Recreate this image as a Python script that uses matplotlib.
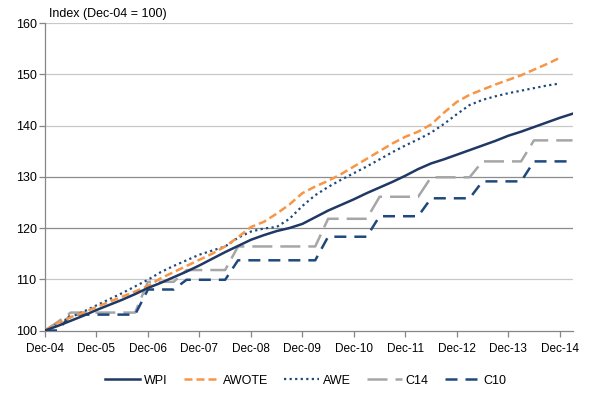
import numpy as np
import matplotlib
matplotlib.use('Agg')
import matplotlib.pyplot as plt

# quarterly index values, Dec-04 = 100 (Dec-04 .. Mar-15)
wpi = [100.0, 100.9, 101.9, 102.9, 104.0, 105.0, 106.0, 107.1, 108.3, 109.3,
       110.4, 111.5, 112.7, 114.0, 115.3, 116.5, 117.7, 118.6, 119.4, 120.0,
       120.8, 122.1, 123.4, 124.5, 125.6, 126.8, 127.9, 129.0, 130.2, 131.5,
       132.6, 133.4, 134.3, 135.2, 136.1, 137.0, 138.0, 138.8, 139.7, 140.6,
       141.5, 142.3]
awote = [100.0, 101.5, 102.6, 103.5, 104.6, 105.6, 106.6, 107.6, 108.7, 110.2,
         111.4, 112.6, 113.8, 115.0, 116.4, 118.2, 120.2, 121.2, 122.8, 124.6,
         126.8, 128.1, 129.2, 130.5, 132.0, 133.5, 135.0, 136.5, 137.8, 138.8,
         140.2, 142.5, 144.6, 146.0, 147.0, 148.0, 148.9, 149.8, 150.9, 152.0,
         153.2, np.nan]
awe = [100.0, 101.4, 102.6, 103.7, 104.9, 106.1, 107.3, 108.6, 109.9, 111.4,
       112.6, 113.7, 114.8, 115.6, 116.4, 118.1, 119.3, 119.9, 120.2, 121.8,
       124.3, 126.4, 128.0, 129.4, 130.7, 132.0, 133.4, 134.8, 136.1, 137.3,
       138.6, 140.3, 142.2, 144.0, 145.0, 145.7, 146.3, 146.8, 147.3, 147.8,
       148.2, np.nan]
c14 = [100.0, 101.7, 103.5, 103.5, 103.5, 103.5, 103.5, 103.5, 109.5, 109.5,
       109.5, 111.8, 111.8, 111.8, 111.8, 116.4, 116.4, 116.4, 116.4, 116.4,
       116.4, 116.4, 121.8, 121.8, 121.8, 121.8, 126.1, 126.1, 126.1, 126.1,
       129.9, 129.9, 129.9, 129.9, 133.0, 133.0, 133.0, 133.0, 137.1, 137.1,
       137.1, 137.1]
c10 = [100.0, 100.0, 103.1, 103.1, 103.1, 103.1, 103.1, 103.1, 108.0, 108.0,
       108.0, 109.9, 109.9, 109.9, 109.9, 113.7, 113.7, 113.7, 113.7, 113.7,
       113.7, 113.7, 118.3, 118.3, 118.3, 118.3, 122.3, 122.3, 122.3, 122.3,
       125.8, 125.8, 125.8, 125.8, 129.1, 129.1, 129.1, 129.1, 133.0, 133.0,
       133.0, 133.0]
tick_labels = ['Dec-04', 'Dec-05', 'Dec-06', 'Dec-07', 'Dec-08', 'Dec-09',
               'Dec-10', 'Dec-11', 'Dec-12', 'Dec-13', 'Dec-14']

x = np.arange(len(wpi))

fig = plt.figure(figsize=(6.05, 3.97), dpi=100)
ax = fig.add_axes([0.0744, 0.1675, 0.872, 0.7745])

# gridlines (two of them look darker in the original)
for v in range(110, 161, 10):
    col = '#8c8c8c' if v in (120, 130) else '#c8c8c8'
    ax.axhline(v, color=col, linewidth=0.9, zorder=1)

ax.plot(x, c14, color='#a6a6a6', linewidth=1.8, dashes=(8, 3.2), label='C14', zorder=3)
ax.plot(x, c10, color='#1f497d', linewidth=1.8, dashes=(4.8, 3.2), label='C10', zorder=3)
ax.plot(x, awe, color='#1f497d', linewidth=1.6, dashes=(1, 1.5), label='AWE', zorder=4)
ax.plot(x, awote, color='#f79646', linewidth=1.8, dashes=(3.2, 1.6), label='AWOTE', zorder=4)
ax.plot(x, wpi, color='#1f3864', linewidth=1.8, label='WPI', zorder=5)

ax.set_xlim(0, len(wpi) - 1)
ax.set_ylim(100, 160)
ax.set_yticks(range(100, 161, 10))
ax.set_xticks(x[::4][:len(tick_labels)])
ax.set_xticklabels(tick_labels)

for s in ['top', 'right']:
    ax.spines[s].set_visible(False)
for s in ['left', 'bottom']:
    ax.spines[s].set_color('#868686')
    ax.spines[s].set_linewidth(0.9)
ax.tick_params(axis='y', direction='out', length=4, width=0.9, color='#868686',
               pad=2, labelsize=9, labelcolor='#000000')
ax.tick_params(axis='x', direction='out', length=4, width=0.9, color='#868686',
               pad=5, labelsize=8.5, labelcolor='#000000')
for lbl in ax.get_yticklabels() + ax.get_xticklabels():
    lbl.set_fontfamily('Liberation Sans')

fig.text(0.081, 0.965, 'Index (Dec-04 = 100)', fontsize=9,
         family='Liberation Sans', va='center', ha='left')

h, l = ax.get_legend_handles_labels()
order = ['WPI', 'AWOTE', 'AWE', 'C14', 'C10']
hh = [h[l.index(n)] for n in order]
fig.legend(hh, order, loc='center', bbox_to_anchor=(0.506, 0.041), ncol=5,
           frameon=False, handlelength=2.8, handletextpad=0.3, columnspacing=1.3,
           prop={'family': 'Liberation Sans', 'size': 9})

fig.savefig('out.png', dpi=100)
